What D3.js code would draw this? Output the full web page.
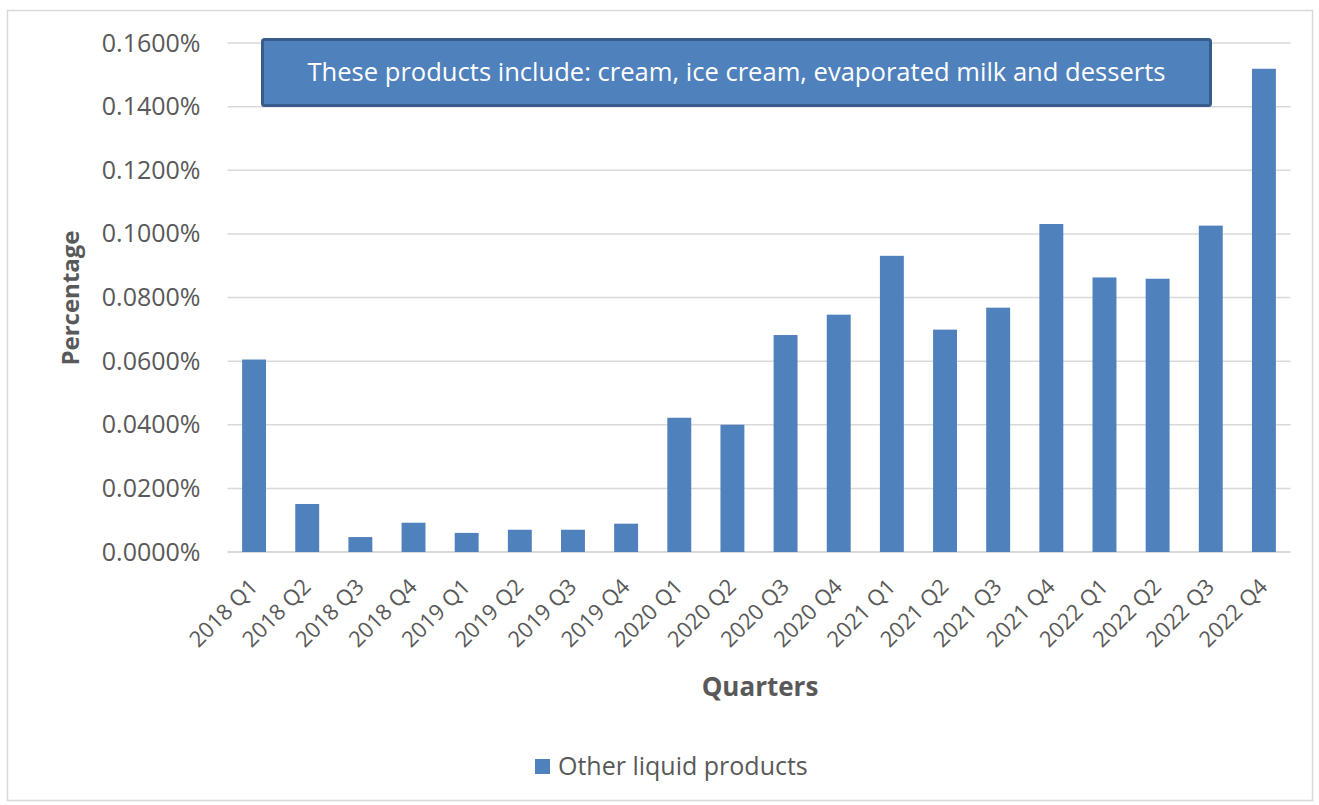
<!DOCTYPE html>
<html>
<head>
<meta charset="utf-8">
<script src="https://cdn.jsdelivr.net/npm/d3@7"></script>
<style>
  html, body { margin: 0; padding: 0; background: #ffffff; }
  svg { display: block; }
</style>
</head>
<body>
<svg id="chart" width="1319" height="805"></svg>
<script>
// Quarterly share of "Other liquid products" (values in percent)
const quarters = [
  "2018 Q1", "2018 Q2", "2018 Q3", "2018 Q4",
  "2019 Q1", "2019 Q2", "2019 Q3", "2019 Q4",
  "2020 Q1", "2020 Q2", "2020 Q3", "2020 Q4",
  "2021 Q1", "2021 Q2", "2021 Q3", "2021 Q4",
  "2022 Q1", "2022 Q2", "2022 Q3", "2022 Q4"
];
const otherLiquid = [
  0.0605, 0.0151, 0.0047, 0.0092,
  0.0060, 0.0070, 0.0070, 0.0089,
  0.0422, 0.0400, 0.0682, 0.0746,
  0.0931, 0.0699, 0.0768, 0.1031,
  0.0863, 0.0859, 0.1026, 0.1519
];
const yTicks = [0, 0.02, 0.04, 0.06, 0.08, 0.10, 0.12, 0.14, 0.16];
const seriesName = "Other liquid products";
const noteText = "These products include: cream, ice cream, evaporated milk and desserts";

const barColor = "#4f81bd";
const gridColor = "#d9d9d9";
const textColor = "#595959";
const font = "'Open Sans', 'DejaVu Sans', sans-serif";

const svg = d3.select("#chart");

// chart frame
svg.append("rect")
  .attr("x", 7.5).attr("y", 10.5)
  .attr("width", 1305).attr("height", 790)
  .attr("fill", "#ffffff")
  .attr("stroke", gridColor).attr("stroke-width", 1.5);

const plot = { left: 227.5, right: 1290.5, top: 43, bottom: 552 };

const x = d3.scaleBand()
  .domain(quarters)
  .range([plot.left, plot.right])
  .paddingInner(0.55)
  .paddingOuter(0.275);

const y = d3.scaleLinear()
  .domain([0, 0.16])
  .range([plot.bottom, plot.top]);

// gridlines
svg.append("g")
  .selectAll("line")
  .data(yTicks)
  .join("line")
  .attr("x1", plot.left).attr("x2", plot.right)
  .attr("y1", d => y(d)).attr("y2", d => y(d))
  .attr("stroke", gridColor)
  .attr("stroke-width", d => d === 0 ? 2 : 1.5);

// y axis labels
const yAxis = d3.axisLeft(y)
  .tickValues(yTicks)
  .tickFormat(d => d.toFixed(4) + "%")
  .tickSize(0)
  .tickPadding(0);
const yg = svg.append("g")
  .attr("transform", `translate(${plot.left - 27},0)`)
  .call(yAxis);
yg.select(".domain").remove();
yg.selectAll("text")
  .attr("fill", textColor)
  .style("font-family", font)
  .style("font-size", "25px");

// bars
svg.append("g")
  .selectAll("rect")
  .data(quarters.map((q, i) => ({ q, v: otherLiquid[i] })))
  .join("rect")
  .attr("x", d => x(d.q))
  .attr("width", x.bandwidth())
  .attr("y", d => y(d.v))
  .attr("height", d => y(0) - y(d.v))
  .attr("fill", barColor);

// x axis labels, rotated
const xAxis = d3.axisBottom(x).tickSize(0).tickPadding(0);
const xg = svg.append("g")
  .attr("transform", `translate(0,${plot.bottom})`)
  .call(xAxis);
xg.select(".domain").remove();
xg.selectAll("text")
  .attr("fill", textColor)
  .style("font-family", font)
  .style("font-size", "22px")
  .attr("text-anchor", "end")
  .attr("y", 0)
  .attr("dy", null)
  .attr("transform", "translate(5,36) rotate(-45)");

// axis titles
svg.append("text")
  .attr("transform", `translate(79,298) rotate(-90)`)
  .attr("text-anchor", "middle")
  .attr("fill", textColor)
  .style("font-family", font)
  .style("font-size", "24px")
  .style("font-weight", "bold")
  .text("Percentage");

svg.append("text")
  .attr("x", 760).attr("y", 696)
  .attr("text-anchor", "middle")
  .attr("fill", textColor)
  .style("font-family", font)
  .style("font-size", "26px")
  .style("font-weight", "bold")
  .text("Quarters");

// legend
const legend = svg.append("g").attr("transform", "translate(535,759)");
legend.append("rect")
  .attr("width", 15).attr("height", 15)
  .attr("fill", barColor);
legend.append("text")
  .attr("x", 23).attr("y", 16)
  .attr("fill", textColor)
  .style("font-family", font)
  .style("font-size", "25px")
  .text(seriesName);

// note box
const note = svg.append("g");
note.append("rect")
  .attr("x", 262.5).attr("y", 39.5)
  .attr("width", 948).attr("height", 66)
  .attr("rx", 2)
  .attr("fill", barColor)
  .attr("stroke", "#385d8a")
  .attr("stroke-width", 3);
note.append("text")
  .attr("x", 736.5).attr("y", 81)
  .attr("text-anchor", "middle")
  .attr("fill", "#ffffff")
  .style("font-family", font)
  .style("font-size", "25px")
  .attr("textLength", 858)
  .attr("lengthAdjust", "spacingAndGlyphs")
  .text(noteText);
</script>
</body>
</html>
